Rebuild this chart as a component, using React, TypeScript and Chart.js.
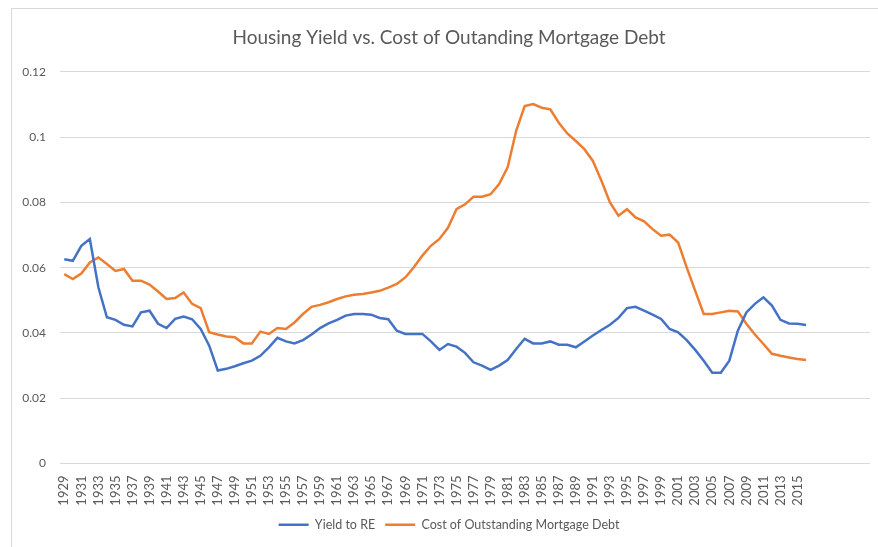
import { useEffect, useRef } from "react";
import { Chart, registerables } from "chart.js";

Chart.register(...registerables);

const years = [
  "1929", "1930", "1931", "1932", "1933", "1934", "1935", "1936", "1937", "1938",
  "1939", "1940", "1941", "1942", "1943", "1944", "1945", "1946", "1947", "1948",
  "1949", "1950", "1951", "1952", "1953", "1954", "1955", "1956", "1957", "1958",
  "1959", "1960", "1961", "1962", "1963", "1964", "1965", "1966", "1967", "1968",
  "1969", "1970", "1971", "1972", "1973", "1974", "1975", "1976", "1977", "1978",
  "1979", "1980", "1981", "1982", "1983", "1984", "1985", "1986", "1987", "1988",
  "1989", "1990", "1991", "1992", "1993", "1994", "1995", "1996", "1997", "1998",
  "1999", "2000", "2001", "2002", "2003", "2004", "2005", "2006", "2007", "2008",
  "2009", "2010", "2011", "2012", "2013", "2014", "2015", "2016", "2017", "2018",
  "2019", "2020", "2021", "2022", "2023",
];

const shownTickLabels = [
  "1929", "1931", "1933", "1935", "1937", "1939", "1941", "1943", "1945", "1947",
  "1949", "1951", "1953", "1955", "1957", "1959", "1961", "1963", "1965", "1967",
  "1969", "1971", "1973", "1975", "1977", "1979", "1981", "1983", "1985", "1987",
  "1989", "1991", "1993", "1995", "1997", "1999", "2001", "2003", "2005", "2007",
  "2009", "2011", "2013", "2015",
];

const yieldToRE = [
  0.0626, 0.0621, 0.0667, 0.0688, 0.054, 0.0448, 0.044, 0.0425, 0.042, 0.0463,
  0.0468, 0.0428, 0.0415, 0.0443, 0.045, 0.0442, 0.0412, 0.0361, 0.0285, 0.029,
  0.0298, 0.0307, 0.0315, 0.033, 0.0356, 0.0385, 0.0374, 0.0368, 0.0378, 0.0395,
  0.0415, 0.0429, 0.044, 0.0453, 0.0458, 0.0458, 0.0456, 0.0446, 0.0442, 0.0407,
  0.0397, 0.0397, 0.0397, 0.0374, 0.0348, 0.0366, 0.0358, 0.0339, 0.031, 0.03,
  0.0287, 0.03, 0.0317, 0.0351, 0.0382, 0.0368, 0.0368, 0.0374, 0.0364, 0.0364,
  0.0356, 0.0374, 0.0392, 0.0409, 0.0425, 0.0446, 0.0476, 0.048, 0.0468, 0.0456,
  0.0443, 0.0412, 0.0402, 0.0378, 0.0348, 0.0315, 0.0278, 0.0278, 0.0315, 0.0407,
  0.0463, 0.0489, 0.0509, 0.0484, 0.044, 0.0429, 0.0428, 0.0424,
];

const costOfDebt = [
  0.058, 0.0565, 0.0582, 0.0616, 0.0631, 0.0611, 0.059, 0.0596, 0.056, 0.056,
  0.0548, 0.0527, 0.0504, 0.0507, 0.0524, 0.0489, 0.0476, 0.0402, 0.0395, 0.0389,
  0.0387, 0.0368, 0.0368, 0.0404, 0.0397, 0.0415, 0.0412, 0.0432, 0.0458, 0.048,
  0.0486, 0.0494, 0.0504, 0.0512, 0.0517, 0.0519, 0.0524, 0.0529, 0.0539, 0.055,
  0.057, 0.0601, 0.0637, 0.0667, 0.0688, 0.0722, 0.0779, 0.0794, 0.0817, 0.0817,
  0.0825, 0.0856, 0.0907, 0.1019, 0.1095, 0.1101, 0.109, 0.1085, 0.1044, 0.1011,
  0.0988, 0.0963, 0.0927, 0.0866, 0.08, 0.0759, 0.0779, 0.0754, 0.0742, 0.0718,
  0.0698, 0.0701, 0.0677, 0.0601, 0.0529, 0.0458, 0.0458, 0.0463, 0.0468, 0.0466,
  0.0428, 0.0395, 0.0366, 0.0336, 0.033, 0.0325, 0.032, 0.0317,
];

const titleText = "Housing Yield vs. Cost of Outanding Mortgage Debt";
const seriesNames = ["Yield to RE", "Cost of Outstanding Mortgage Debt"];

const FONT = "Lato, 'Open Sans', sans-serif";
const TEXT = "#595959";

export default function App() {
  const ref = useRef<HTMLCanvasElement>(null);

  useEffect(() => {
    if (!ref.current) return;
    const chart = new Chart(ref.current, {
      type: "line",
      data: {
        labels: years,
        datasets: [
          {
            label: seriesNames[0],
            data: yieldToRE,
            borderColor: "#4472C4",
            backgroundColor: "#4472C4",
            borderWidth: 2.5,
            pointRadius: 0,
            tension: 0,
          },
          {
            label: seriesNames[1],
            data: costOfDebt,
            borderColor: "#ED7D31",
            backgroundColor: "#ED7D31",
            borderWidth: 2.5,
            pointRadius: 0,
            tension: 0,
          },
        ],
      },
      options: {
        responsive: false,
        animation: false,
        layout: { padding: { left: 20, right: 0, top: 0, bottom: 6 } },
        plugins: {
          title: {
            display: true,
            text: titleText,
            color: TEXT,
            font: { family: FONT, size: 19, weight: "normal" },
            padding: { top: 26, bottom: 23 },
          },
          legend: {
            position: "bottom",
            labels: {
              color: TEXT,
              font: { family: FONT, size: 12.5 },
              usePointStyle: true,
              pointStyle: "line",
              pointStyleWidth: 30,
              padding: 10,
            },
          },
          tooltip: { enabled: false },
        },
        scales: {
          x: {
            offset: true,
            grid: { display: false },
            border: { display: false },
            ticks: {
              autoSkip: false,
              maxRotation: 90,
              minRotation: 90,
              color: TEXT,
              font: { family: FONT, size: 13 },
              padding: 4,
              callback: (_v: any, i: number) =>
                shownTickLabels.includes(years[i]) ? years[i] : "",
            },
            afterFit: (s: any) => {
              s.height = 45;
              s.paddingLeft = 0;
              s.paddingRight = 8;
            },
          },
          y: {
            min: 0,
            max: 0.12,
            grid: { color: "#d9d9d9", drawTicks: false },
            border: { display: false },
            ticks: {
              stepSize: 0.02,
              color: TEXT,
              font: { family: FONT, size: 12 },
              padding: 14,
              callback: (v: any) => String(Number(Number(v).toFixed(2))),
            },
            afterFit: (s: any) => {
              s.width = 40;
              s.paddingTop = 0;
              s.paddingBottom = 0;
            },
          },
        },
      },
    });
    return () => chart.destroy();
  }, []);

  return (
    <div style={{ position: "fixed", left: 0, top: 0, width: 878, height: 547, background: "#fff" }}>
      <div
        style={{
          position: "absolute",
          left: 11,
          top: 8,
          width: 880,
          height: 560,
          border: "1px solid #d9d9d9",
        }}
      />
      <canvas ref={ref} width={878} height={547} style={{ position: "absolute", left: 0, top: 0 }} />
    </div>
  );
}
